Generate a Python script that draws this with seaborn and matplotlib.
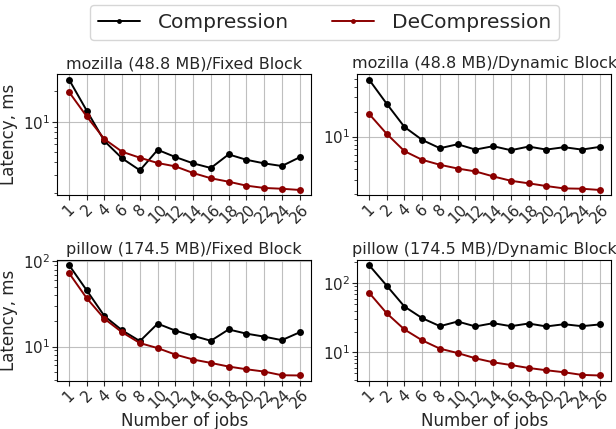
import matplotlib
matplotlib.use("Agg")
import matplotlib.pyplot as plt
import seaborn as sns
import pandas as pd

jobs = ["1", "2", "4", "6", "8", "10", "12", "14", "16", "18", "20", "22", "24", "26"]

titles = [
    "mozilla (48.8 MB)/Fixed Block",
    "mozilla (48.8 MB)/Dynamic Block",
    "pillow (174.5 MB)/Fixed Block",
    "pillow (174.5 MB)/Dynamic Block",
]

moz_fixed_comp = [26.1, 12.9, 6.47, 4.37, 3.34, 5.31, 4.51, 3.91, 3.52, 4.79, 4.24, 3.91, 3.68, 4.48]
moz_fixed_decomp = [19.7, 11.3, 6.76, 5.08, 4.44, 3.94, 3.65, 3.14, 2.79, 2.58, 2.36, 2.24, 2.20, 2.14]
moz_dyn_comp = [49.2, 25.0, 13.1, 9.12, 7.24, 8.09, 6.97, 7.66, 6.85, 7.58, 6.97, 7.45, 6.97, 7.51]
moz_dyn_decomp = [18.9, 10.8, 6.67, 5.24, 4.56, 4.11, 3.79, 3.30, 2.92, 2.72, 2.52, 2.36, 2.34, 2.26]
pil_fixed_comp = [90.8, 45.8, 22.8, 15.5, 11.6, 18.6, 15.4, 13.4, 11.7, 15.9, 14.2, 13.1, 11.9, 14.7]
pil_fixed_decomp = [73.2, 37.0, 21.2, 14.7, 11.0, 9.6, 8.06, 7.05, 6.43, 5.83, 5.42, 5.09, 4.61, 4.58]
pil_dyn_comp = [183, 92, 45.9, 31.2, 23.9, 27.9, 23.7, 26.4, 23.9, 26.1, 23.7, 25.5, 23.9, 25.3]
pil_dyn_decomp = [73, 36.7, 21.4, 14.9, 11.3, 9.77, 8.2, 7.18, 6.56, 5.94, 5.51, 5.15, 4.72, 4.63]

series = [
    (moz_fixed_comp, moz_fixed_decomp),
    (moz_dyn_comp, moz_dyn_decomp),
    (pil_fixed_comp, pil_fixed_decomp),
    (pil_dyn_comp, pil_dyn_decomp),
]

sns.set_style("ticks")
plt.rcParams['font.family'] = ['DejaVu Sans']

fig, axes = plt.subplots(2, 2, figsize=(6.16, 4.29), dpi=100)
fig.subplots_adjust(left=0.0933, right=0.992, top=0.8275, bottom=0.1119,
                    wspace=0.183, hspace=0.527)

palette = {"Compression": "black", "DeCompression": "darkred"}

for i, ax in enumerate(axes.flat):
    comp, decomp = series[i]
    df = pd.DataFrame({
        "jobs": jobs * 2,
        "latency": comp + decomp,
        "kind": ["Compression"] * len(jobs) + ["DeCompression"] * len(jobs),
    })
    sns.lineplot(data=df, x="jobs", y="latency", hue="kind", palette=palette,
                 marker="o", markersize=5, markeredgewidth=0, linewidth=1.4,
                 sort=False, ax=ax, legend=(i == 0))
    ax.set_yscale("log")
    ax.set_title(titles[i], fontsize=11.5, pad=4)
    ax.grid(True, which="major", color="#b0b0b0", linewidth=0.8, alpha=0.8)
    ax.tick_params(axis="x", labelrotation=45, labelsize=11, length=3.5, pad=1)
    ax.tick_params(axis="y", which="major", labelsize=11, length=3.5, pad=2)
    ax.tick_params(axis="y", which="minor", length=2)
    for spine in ax.spines.values():
        spine.set_visible(True)
        spine.set_color("black")
    ax.set_xlabel("Number of jobs" if i >= 2 else "", fontsize=12, labelpad=0)
    ax.set_ylabel("Latency, ms" if i % 2 == 0 else "", fontsize=12, labelpad=3.5)

handles, labels = axes[0, 0].get_legend_handles_labels()
axes[0, 0].get_legend().remove()
for h in handles:
    h.set_markersize(3.5)
fig.legend(handles, labels, loc="upper center", ncol=2, fontsize=14.5,
           bbox_to_anchor=(0.527, 1.012), frameon=True, columnspacing=2.1,
           handlelength=2.1, handletextpad=0.9)

fig.savefig("out.png", dpi=100)
